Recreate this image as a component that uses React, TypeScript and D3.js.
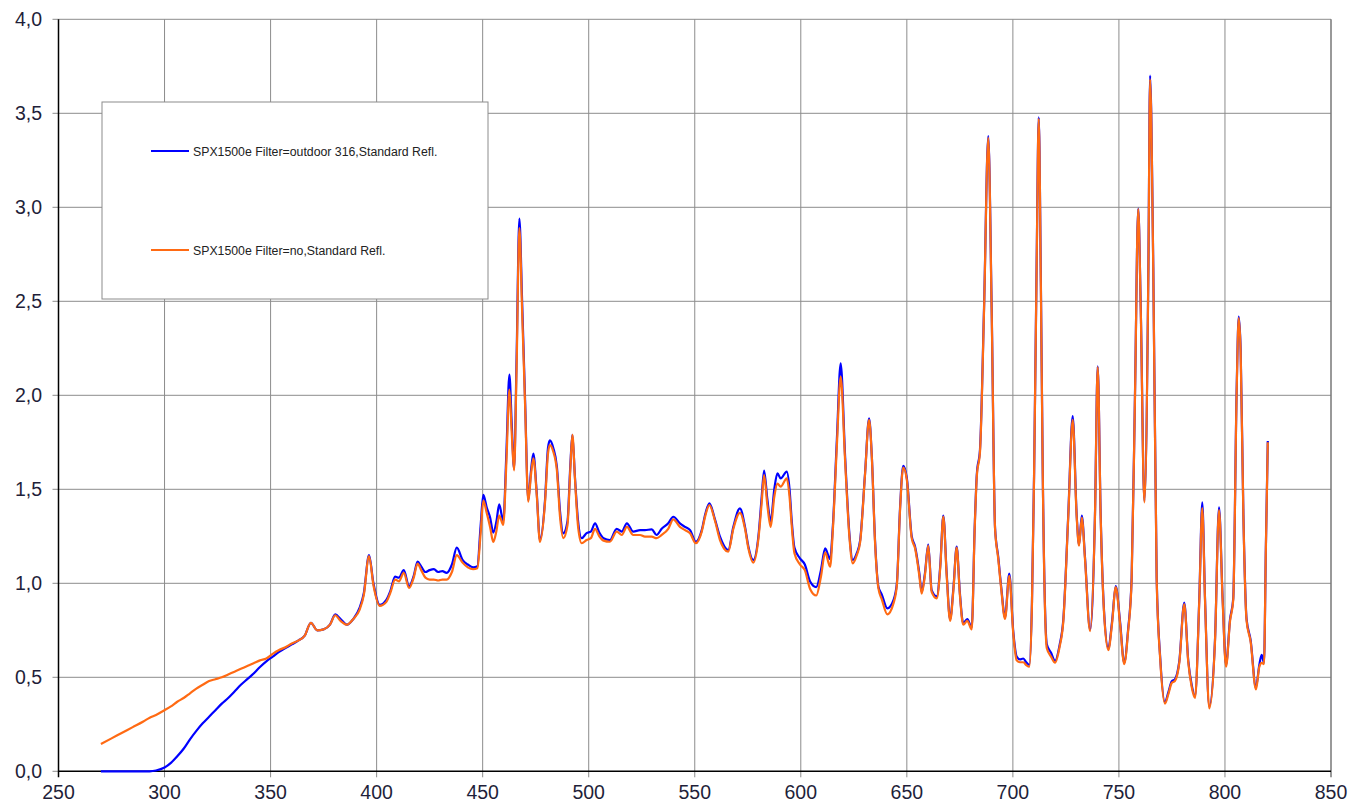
import React from "react";
import * as d3 from "d3";

const xTicks = [250, 300, 350, 400, 450, 500, 550, 600, 650, 700, 750, 800, 850];
const yTicks = [0, 0.5, 1, 1.5, 2, 2.5, 3, 3.5, 4];
const seriesNames = [
  "SPX1500e Filter=outdoor 316,Standard Refl.",
  "SPX1500e Filter=no,Standard Refl.",
];

const wavelengths = [
  270, 275, 280, 285, 290, 293, 296, 300, 303, 306, 309, 312, 315, 318, 321, 324, 327, 330, 333, 336, 339, 342, 345, 348, 351, 354, 357, 360, 363, 366,
  369, 372, 375, 378, 380.5, 383, 386, 389, 392, 394, 396.4, 398.5, 401.5, 404.5, 406.5, 408.7, 410.5, 412.8, 415.3, 417.5, 419.3, 421, 423, 425, 427, 429, 431, 433, 435.5, 437.8,
  440.5, 443, 445.5, 447.5, 449, 450.3, 452, 453.5, 455, 456.5, 457.8, 459.7, 461.2, 462.6, 463.7, 464.8, 466, 467.3, 468.6, 470, 471.5, 472.8, 473.9, 475.5, 477, 479.4, 480.8, 481.7, 483.3, 485,
  486.5, 488, 490, 491.3, 492.3, 493.5, 495, 496.7, 499, 501, 503, 505, 507, 510, 513.2, 515.6, 518, 521, 524.2, 526.5, 529.7, 532, 534.4, 537.5, 539.9, 543, 545.4, 547.8, 550.5, 553.3,
  555, 556.9, 559.6, 561.9, 563.8, 565.8, 568.2, 571.3, 573.7, 575.3, 577.6, 580, 581.5, 582.7, 584.2, 585.8, 587.5, 589, 590.5, 593.4, 594.7, 595.7, 597, 599.6, 601.9, 604.4, 607.3, 609.5, 611.5, 613.8,
  615.1, 617, 618.8, 620.9, 622.9, 624.5, 626.4, 628, 630.3, 632.2, 633.5, 635, 636.6, 638.2, 640.8, 643.7, 645.3, 646.8, 648.3, 650, 652.3, 653.9, 655.9, 657, 658.5, 660.1, 661.7, 664.1, 665.8, 667.2,
  668.8, 670.4, 672, 673.5, 675, 676.6, 678.5, 680.6, 682, 683, 684.5, 686.4, 688.4, 690, 691.6, 693.1, 694.5, 696.3, 698.3, 700.2, 701.8, 703.3, 704.9, 706.3, 707.8, 709, 710, 711.2, 712.2, 713.2,
  714.1, 716, 718, 719.9, 722, 723.8, 726.1, 728.2, 730.1, 731.2, 732.5, 734, 736.4, 738.7, 740, 741.4, 743, 745, 746.8, 748.5, 750.5, 752.5, 754.3, 756, 757.6, 759.1, 760.3, 762, 763.9, 764.7,
  766.2, 767.8, 769.5, 771.7, 773.3, 774.9, 776.4, 778.5, 780.8, 782.7, 784.3, 785.9, 787.9, 789.3, 790.6, 792.6, 795.3, 797.2, 798.9, 800.5, 802.4, 803.9, 805.5, 806.5, 807.4, 808.7, 810.2, 812.1, 814.6, 816.2,
  817.3, 818.4, 819.3, 820.2,
];

const filteredValues = [
  0, 0, 0, 0, 0, 0, 0.004, 0.02, 0.045, 0.08, 0.12, 0.17, 0.215, 0.255, 0.29, 0.325, 0.36, 0.39, 0.425, 0.46, 0.49, 0.52, 0.555, 0.585, 0.61, 0.635, 0.655, 0.675, 0.695, 0.72,
  0.79, 0.75, 0.755, 0.78, 0.835, 0.81, 0.78, 0.81, 0.87, 0.95, 1.15, 1.0, 0.885, 0.91, 0.96, 1.035, 1.03, 1.07, 0.985, 1.04, 1.115, 1.09, 1.06, 1.07, 1.075, 1.06, 1.065, 1.055, 1.1, 1.19,
  1.125, 1.1, 1.085, 1.09, 1.3, 1.47, 1.4, 1.35, 1.27, 1.33, 1.42, 1.33, 1.7, 2.11, 1.85, 1.61, 2.2, 2.94, 2.5, 1.975, 1.443, 1.6, 1.69, 1.48, 1.23, 1.443, 1.72, 1.76, 1.72, 1.62,
  1.38, 1.266, 1.33, 1.62, 1.79, 1.567, 1.33, 1.24, 1.267, 1.275, 1.319, 1.27, 1.24, 1.23, 1.29, 1.275, 1.319, 1.275, 1.283, 1.283, 1.287, 1.257, 1.29, 1.319, 1.354, 1.319, 1.3, 1.283, 1.221, 1.283,
  1.37, 1.425, 1.337, 1.248, 1.2, 1.177, 1.3, 1.399, 1.3, 1.195, 1.124, 1.248, 1.45, 1.6, 1.45, 1.328, 1.5, 1.585, 1.558, 1.594, 1.5, 1.337, 1.19, 1.133, 1.1, 1.01, 0.98, 1.07, 1.186, 1.128,
  1.3, 1.762, 2.17, 1.673, 1.266, 1.124, 1.16, 1.23, 1.585, 1.878, 1.673, 1.23, 0.982, 0.94, 0.867, 0.911, 1.0, 1.4, 1.625, 1.56, 1.25, 1.195, 1.053, 0.955, 1.05, 1.206, 0.963, 0.93, 1.1, 1.36,
  1.05, 0.809, 0.98, 1.195, 0.95, 0.787, 0.81, 0.765, 1.3, 1.58, 1.713, 2.463, 3.379, 2.463, 1.294, 1.14, 0.98, 0.82, 1.051, 0.742, 0.61, 0.595, 0.6, 0.58, 0.566, 0.9, 1.58, 2.7, 3.478, 2.6,
  1.58, 0.676, 0.63, 0.588, 0.67, 0.809, 1.36, 1.89, 1.36, 1.206, 1.36, 1.14, 0.753, 1.36, 2.154, 1.36, 0.85, 0.654, 0.8, 0.985, 0.8, 0.577, 0.75, 1.029, 2.022, 2.993, 2.463, 1.437, 2.684, 3.7,
  2.684, 1.029, 0.6, 0.367, 0.42, 0.478, 0.489, 0.588, 0.897, 0.588, 0.46, 0.4, 0.919, 1.43, 0.919, 0.345, 0.698, 1.404, 0.919, 0.566, 0.809, 0.919, 2.022, 2.419, 2.243, 1.36, 0.809, 0.698, 0.445, 0.566,
  0.62, 0.577, 1.2, 1.757,
];

const unfilteredValues = [
  0.145, 0.175, 0.205, 0.235, 0.265, 0.285, 0.3, 0.325, 0.345, 0.37, 0.39, 0.415, 0.44, 0.46, 0.48, 0.49, 0.5, 0.515, 0.53, 0.545, 0.56, 0.575, 0.59, 0.6, 0.625, 0.645, 0.66, 0.68, 0.695, 0.72,
  0.79, 0.75, 0.755, 0.78, 0.83, 0.8, 0.78, 0.81, 0.86, 0.94, 1.145, 0.99, 0.88, 0.9, 0.95, 1.02, 1.01, 1.055, 0.975, 1.03, 1.105, 1.07, 1.03, 1.02, 1.02, 1.015, 1.02, 1.02, 1.06, 1.15,
  1.11, 1.085, 1.075, 1.08, 1.26, 1.44, 1.37, 1.3, 1.22, 1.28, 1.36, 1.31, 1.65, 2.03, 1.8, 1.6, 2.15, 2.89, 2.45, 1.95, 1.434, 1.58, 1.665, 1.47, 1.22, 1.43, 1.69, 1.735, 1.7, 1.6,
  1.35, 1.24, 1.31, 1.6, 1.79, 1.56, 1.3, 1.213, 1.23, 1.24, 1.29, 1.25, 1.227, 1.221, 1.275, 1.257, 1.3, 1.257, 1.257, 1.248, 1.248, 1.24, 1.257, 1.29, 1.34, 1.3, 1.283, 1.266, 1.213, 1.275,
  1.36, 1.416, 1.33, 1.23, 1.185, 1.168, 1.29, 1.375, 1.29, 1.185, 1.11, 1.235, 1.42, 1.576, 1.42, 1.3, 1.46, 1.53, 1.514, 1.558, 1.46, 1.31, 1.16, 1.1, 1.07, 0.97, 0.935, 1.035, 1.165, 1.088,
  1.28, 1.73, 2.1, 1.65, 1.25, 1.106, 1.15, 1.22, 1.58, 1.87, 1.67, 1.22, 0.973, 0.915, 0.835, 0.893, 0.99, 1.39, 1.615, 1.55, 1.24, 1.185, 1.04, 0.945, 1.04, 1.2, 0.955, 0.92, 1.09, 1.355,
  1.04, 0.8, 0.97, 1.19, 0.94, 0.78, 0.8, 0.755, 1.29, 1.57, 1.7, 2.45, 3.37, 2.45, 1.29, 1.13, 0.97, 0.81, 1.04, 0.73, 0.59, 0.58, 0.58, 0.565, 0.556, 0.89, 1.57, 2.68, 3.47, 2.58,
  1.57, 0.654, 0.61, 0.578, 0.66, 0.8, 1.35, 1.87, 1.35, 1.2, 1.35, 1.13, 0.745, 1.35, 2.15, 1.355, 0.84, 0.645, 0.79, 0.98, 0.79, 0.57, 0.74, 1.02, 2.01, 2.99, 2.45, 1.43, 2.67, 3.68,
  2.67, 1.02, 0.59, 0.36, 0.41, 0.47, 0.48, 0.58, 0.89, 0.58, 0.45, 0.39, 0.91, 1.4, 0.91, 0.335, 0.69, 1.39, 0.91, 0.556, 0.8, 0.91, 2.01, 2.41, 2.23, 1.35, 0.8, 0.69, 0.435, 0.556,
  0.577, 0.57, 1.19, 1.75,
];

const seriesColors = ["#0000ff", "#ff6a13"];

export default function App() {
  const width = 1352;
  const height = 802;
  const left = 58.5;
  const right = 1331;
  const top = 19.3;
  const bottom = 771.3;

  const x = d3.scaleLinear().domain([250, 850]).range([left, right]);
  const y = d3.scaleLinear().domain([0, 4]).range([bottom, top]);

  const line = d3
    .line<number>()
    .x((_, i) => x(wavelengths[i]))
    .y((d) => y(d))
    .curve(d3.curveMonotoneX);

  const series = [filteredValues, unfilteredValues];
  const gridColor = "#8c8c8c";
  const textColor = "#1f1f3a";
  const font = "'Liberation Sans', Arial, sans-serif";

  const legendX = 102;
  const legendY = 102;
  const legendW = 386;
  const legendH = 197;
  const legendRows = [151, 250];

  return (
    <svg
      width={width}
      height={height}
      style={{ position: "absolute", left: 0, top: 0, background: "#fff" }}
    >
      <rect x={0} y={0} width={width} height={height} fill="#fff" />
      {yTicks.filter((t) => t > 0).map((t) => (
        <line key={"hg" + t} x1={left} x2={right} y1={y(t)} y2={y(t)} stroke={gridColor} strokeWidth={1} />
      ))}
      {xTicks.filter((t) => t > 250).map((t) => (
        <line key={"vg" + t} x1={x(t)} x2={x(t)} y1={top} y2={bottom + 6} stroke={t === 850 ? "#777" : gridColor} strokeWidth={t === 850 ? 1.5 : 1} />
      ))}
      {yTicks.map((t) => (
        <line key={"yt" + t} x1={left - 6} x2={left} y1={y(t)} y2={y(t)} stroke={gridColor} strokeWidth={1} />
      ))}
      <line x1={left} x2={left} y1={top} y2={bottom + 6} stroke="#000" strokeWidth={1.5} />
      <line x1={left} x2={right} y1={bottom} y2={bottom} stroke="#000" strokeWidth={1.5} />
      {yTicks.map((t) => (
        <text
          key={"yl" + t}
          x={42}
          y={y(t) + 7}
          textAnchor="end"
          fontFamily={font}
          fontSize={19.5}
          fill={textColor}
        >
          {t.toFixed(1).replace(".", ",")}
        </text>
      ))}
      {xTicks.map((t) => (
        <text
          key={"xl" + t}
          x={x(t)}
          y={799}
          textAnchor="middle"
          fontFamily={font}
          fontSize={19.5}
          fill={textColor}
        >
          {t}
        </text>
      ))}
      <rect x={legendX} y={legendY} width={legendW} height={legendH} fill="#fff" stroke={gridColor} strokeWidth={1} />
      {seriesNames.map((name, i) => (
        <g key={name}>
          <line x1={151} x2={189} y1={legendRows[i]} y2={legendRows[i]} stroke={seriesColors[i]} strokeWidth={2} />
          <text x={193} y={legendRows[i] + 4.5} fontFamily={font} fontSize={12.3} fill="#222">
            {name}
          </text>
        </g>
      ))}
      {series.map((vals, i) => (
        <path
          key={"s" + i}
          d={line(vals) || ""}
          fill="none"
          stroke={seriesColors[i]}
          strokeWidth={2.2}
          strokeLinejoin="round"
        />
      ))}
    </svg>
  );
}
